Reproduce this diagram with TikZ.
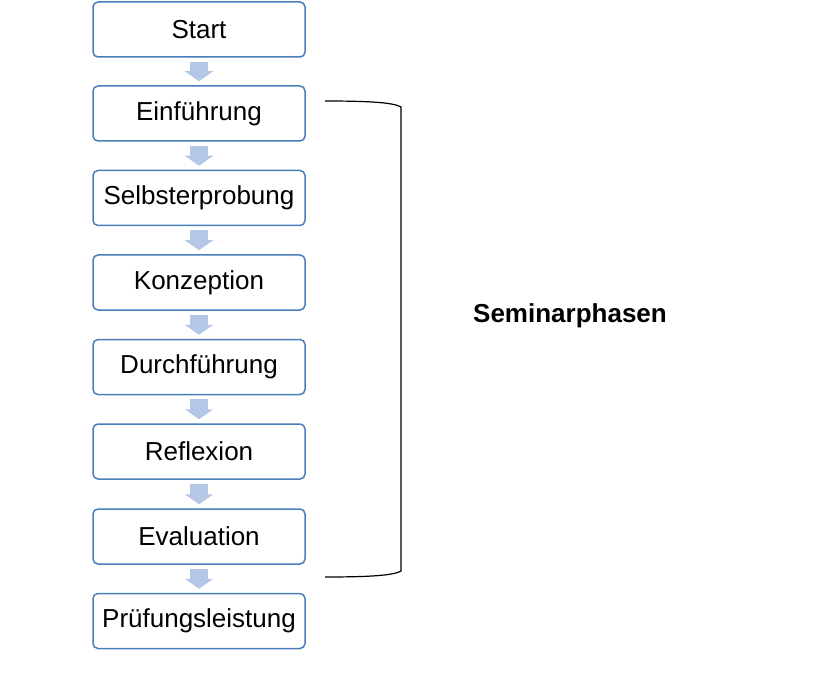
\documentclass[tikz,border=0pt]{standalone}
\usepackage{fontspec}
\setmainfont{Liberation Sans}
\usetikzlibrary{arrows.meta,positioning}
\definecolor{boxblue}{HTML}{4A7EBB}
\definecolor{pale}{HTML}{B4C7E7}

\begin{document}
\begin{tikzpicture}[x=1pt,y=-1pt,font=\fontsize{26}{31}\selectfont,
  phase/.style={draw=boxblue,line width=1.5pt,rounded corners=5pt,minimum width=212pt,minimum height=55pt,inner sep=0pt},
  down/.style={pale,line width=18pt,-{Triangle[width=28pt,length=10pt]}}]
\useasboundingbox (0,0) rectangle (822,679);
\foreach \y/\name/\txt in {29.5/p0/Start,113.5/p1/Einführung,198/p2/Selbsterprobung,282.5/p3/Konzeption,367/p4/Durchführung,451.5/p5/Reflexion,536.5/p6/Evaluation,621/p7/Prüfungsleistung}{
\node[phase] (\name) at (199,\y) {\txt};}
\foreach \a/\b in {p0/p1,p1/p2,p2/p3,p3/p4,p4/p5,p5/p6,p6/p7}{
\draw[down] ([yshift=-4pt]\a.south) -- ([yshift=4pt]\b.north);}
\draw[line width=1.2pt] (325,101) .. controls (375,101) and (394,103) .. (401,107) -- (401,571) .. controls (394,575) and (375,577) .. (325,577);
\node[font=\fontsize{26}{31}\selectfont\bfseries] (sem) at (570,316) {Seminarphasen};
\end{tikzpicture}
\end{document}
